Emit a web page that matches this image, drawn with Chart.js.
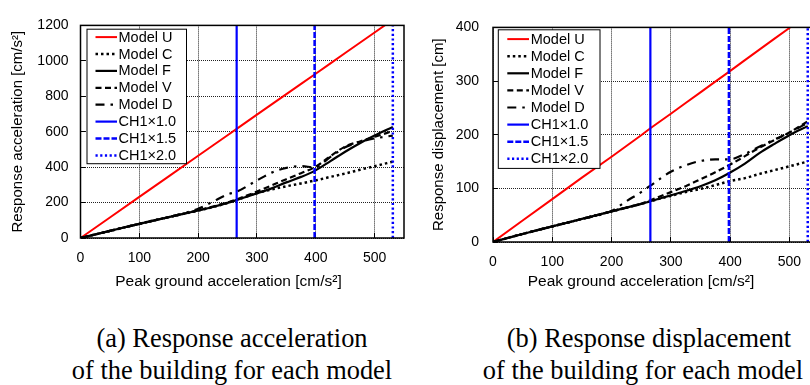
<!DOCTYPE html>
<html><head><meta charset="utf-8">
<script src="https://cdn.jsdelivr.net/npm/chart.js@4.4.1/dist/chart.umd.min.js"></script>
<style>
html,body{margin:0;padding:0;background:#fff;width:810px;height:385px;overflow:hidden;position:relative}
#wa{position:absolute;left:0;top:0;width:406px;height:300px}
#wb{position:absolute;left:410px;top:0;width:412px;height:300px}
.cap{position:absolute;font-family:'Liberation Serif','Times New Roman',serif;font-size:26.4px;line-height:32.3px;white-space:nowrap;text-align:center;color:#000;width:400px}
</style></head><body>
<div id="wa"><canvas id="ca" width="406" height="300"></canvas></div>
<div id="wb"><canvas id="cb" width="412" height="300"></canvas></div>
<div class="cap" style="left:32px;top:322px">(a) Response acceleration</div>
<div class="cap" style="left:32px;top:354px">of the building for each model</div>
<div class="cap" style="left:449px;top:322px">(b) Response displacement</div>
<div class="cap" style="left:443px;top:354px">of the building for each model</div>
<script>
// ---- data ----
const pga = [0, 50, 100, 150, 200, 225, 250, 265.5, 300, 325, 350, 375, 398, 425, 450, 475, 500, 531];
const seriesNames = ['Model U', 'Model C', 'Model F', 'Model V', 'Model D'];
const chNames = ['CH1×1.0', 'CH1×1.5', 'CH1×2.0'];
const chLevels = [265.5, 398, 531];

// (a) response acceleration [cm/s2]
const accU = [0, 116, 232, 348, 464, 522, 580, 616, 696, 754, 812, 870, 923, 986, 1044, 1102, 1160, 1232];
const accC = [0, 40, 80, 118, 155, 175, 198, 214, 254, 274, 292, 308, 324, 345, 364, 385, 405, 431];
const accF = [0, 40, 80, 118, 155, 175, 198, 214, 252, 280, 314, 345, 379, 434, 487, 535, 578, 627];
const accV = [0, 40, 80, 118, 156, 177, 201, 218, 262, 297, 332, 366, 399, 462, 516, 545, 571, 604];
const accD = [0, 40, 80, 118, 165, 205, 246, 261, 325, 369, 396, 406, 398, 458, 512, 542, 562, 578];

// (b) response displacement [cm]
const dispU = [0, 40, 80, 120, 159, 179, 199, 212, 239, 259, 279, 299, 317, 339, 359, 379, 399, 423];
const dispC = [0, 15, 29, 43, 57, 64, 71, 76, 86, 93, 99, 106, 113, 119, 127, 134, 141, 150];
const dispF = [0, 15, 29, 43, 57, 64, 71, 76, 87, 95, 104, 115, 128, 146, 166, 183, 199, 216];
const dispV = [0, 15, 29, 43, 57, 64, 71, 78, 93, 104, 117, 130, 143, 160, 176, 190, 204, 225];
const dispD = [0, 15, 29, 43, 58, 76, 93, 105, 131, 143, 151, 154, 154, 164, 178, 191, 204, 222];

const xTicks = [0, 100, 200, 300, 400, 500];
const yTicksA = [0, 200, 400, 600, 800, 1000, 1200];
const yTicksB = [0, 100, 200, 300, 400];

// ---- styles ----
const curveStyles = [
  {color: '#ff0000', width: 2, dash: [], smooth: false},
  {color: '#000000', width: 2.5, dash: [2.5, 3], smooth: true},
  {color: '#000000', width: 2.2, dash: [], smooth: true},
  {color: '#000000', width: 2.2, dash: [6, 3.5], smooth: true},
  {color: '#000000', width: 2.2, dash: [9, 6, 2.5, 6], smooth: true}
];
const chStyles = [
  {color: '#0000ff', width: 2.2, dash: []},
  {color: '#0000ff', width: 2.5, dash: [6, 2]},
  {color: '#0000ff', width: 2.5, dash: [2.2, 2.5]}
];

Chart.defaults.font.family = "'Liberation Sans', Arial, sans-serif";
Chart.defaults.color = '#000';

const framePlugin = {
  id: 'frame',
  afterDraw(chart) {
    const {ctx, chartArea: a} = chart;
    ctx.save();
    ctx.strokeStyle = '#000'; ctx.lineWidth = 1.5; ctx.setLineDash([]);
    ctx.strokeRect(a.left, a.top, a.right - a.left, a.bottom - a.top);
    ctx.restore();
  }
};
const boxLegend = {
  id: 'boxLegend',
  afterDatasetsDraw(chart, args, o) {
    const {ctx, chartArea: a} = chart;
    const x = a.left + o.x, y = a.top + o.y;
    ctx.save();
    ctx.fillStyle = '#fff'; ctx.fillRect(x, y, o.w, o.h);
    ctx.strokeStyle = '#000'; ctx.lineWidth = 1; ctx.setLineDash([]);
    ctx.strokeRect(x, y, o.w, o.h);
    ctx.font = o.font; ctx.textBaseline = 'middle'; ctx.textAlign = 'left';
    chart.data.datasets.forEach((ds, i) => {
      const cy = y + o.first + i * o.row;
      ctx.save();
      ctx.strokeStyle = ds.borderColor; ctx.lineWidth = ds.borderWidth;
      ctx.setLineDash(ds.borderDash || []);
      ctx.beginPath(); ctx.moveTo(x + o.l0, cy); ctx.lineTo(x + o.l1, cy); ctx.stroke();
      ctx.restore();
      ctx.fillStyle = '#000';
      ctx.fillText(ds.label, x + o.tx, cy + 0.5);
    });
    ctx.restore();
  }
};
const xTitle = {
  id: 'xTitle',
  afterDraw(chart, args, o) {
    const {ctx, chartArea: a} = chart;
    ctx.save();
    ctx.font = o.font; ctx.fillStyle = '#000'; ctx.textAlign = 'center'; ctx.textBaseline = 'middle';
    ctx.fillText(o.text, a.left + o.dx, o.y);
    ctx.restore();
  }
};

function makeDatasets(series, yMax) {
  const ds = series.map((vals, i) => ({
    label: seriesNames[i],
    data: pga.map((x, k) => ({x: x, y: vals[k]})),
    borderColor: curveStyles[i].color,
    borderWidth: curveStyles[i].width,
    borderDash: curveStyles[i].dash,
    cubicInterpolationMode: curveStyles[i].smooth ? 'monotone' : 'default',
    showLine: true, pointRadius: 0, fill: false, order: 10 - i
  }));
  chLevels.forEach((lv, i) => ds.push({
    label: chNames[i],
    data: [{x: lv, y: 0}, {x: lv, y: yMax}],
    borderColor: chStyles[i].color,
    borderWidth: chStyles[i].width,
    borderDash: chStyles[i].dash,
    showLine: true, pointRadius: 0, fill: false, order: 1
  }));
  return ds;
}

function makeChart(id, series, yTicks, cfg) {
  const yMax = yTicks[yTicks.length - 1];
  return new Chart(document.getElementById(id), {
    type: 'scatter',
    data: {datasets: makeDatasets(series, yMax)},
    plugins: [boxLegend, framePlugin, xTitle],
    options: {
      responsive: false, animation: false, events: [],
      layout: {padding: {left: 0, top: cfg.top, right: cfg.right, bottom: 0}},
      plugins: {
        legend: {display: false}, tooltip: {enabled: false},
        boxLegend: cfg.legend,
        xTitle: {text: 'Peak ground acceleration [cm/s²]', font: "15.5px 'Liberation Sans', Arial, sans-serif", dx: 148, y: 282}
      },
      scales: {
        x: {
          type: 'linear', min: 0, max: 550,
          afterBuildTicks: s => { s.ticks = xTicks.map(v => ({value: v})); },
          afterFit: s => { s.height = cfg.xh; },
          ticks: {padding: cfg.xpad, font: {size: 14}, maxRotation: 0, autoSkip: false, callback: v => String(v)},
          grid: {color: '#222', lineWidth: 1, tickLength: -5, tickColor: '#000', tickWidth: 1},
          border: {display: false, dash: [1, 1]}
        },
        y: {
          type: 'linear', min: 0, max: yMax,
          afterBuildTicks: s => { s.ticks = yTicks.map(v => ({value: v})); },
          afterFit: s => { s.width = cfg.yw; },
          ticks: {padding: cfg.ypad, font: {size: 14}, autoSkip: false, callback: v => String(v)},
          grid: {color: '#222', lineWidth: 1, tickLength: -5, tickColor: '#000', tickWidth: 1},
          border: {display: false, dash: [1, 1]},
          title: {display: true, text: cfg.ytitle, font: {size: 15}, padding: {top: cfg.ytpad, bottom: 0}}
        }
      }
    }
  });
}

makeChart('ca', [accU, accC, accF, accV, accD], yTicksA, {
  top: 13.5, right: 2, xh: 62, yw: 80.5, xpad: 17, ypad: 17,
  ytitle: 'Response acceleration [cm/s²]', ytpad: 9,
  legend: {x: 6.5, y: 3.8, w: 99.5, h: 134.5, first: 7.9, row: 16.9, l0: 8.5, l1: 30, tx: 31.5, font: "14.5px 'Liberation Sans', Arial, sans-serif"}
});
makeChart('cb', [dispU, dispC, dispF, dispV, dispD], yTicksB, {
  top: 13.3, right: 3, xh: 58, yw: 83, xpad: 16.3, ypad: 19,
  ytitle: 'Response displacement [cm]', ytpad: 20,
  legend: {x: 5.3, y: 2.4, w: 101.7, h: 138.6, first: 9.3, row: 17.1, l0: 9, l1: 30.7, tx: 32.4, font: "14.5px 'Liberation Sans', Arial, sans-serif"}
});
</script>
</body></html>
